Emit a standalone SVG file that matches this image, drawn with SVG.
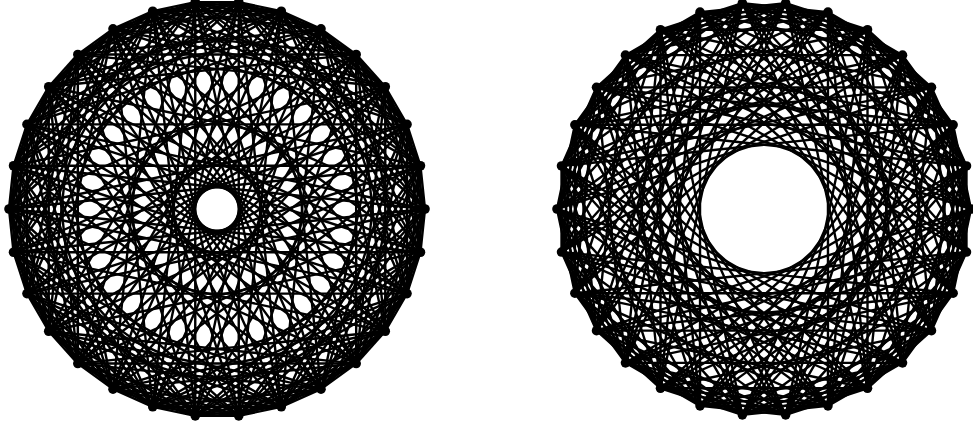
<svg xmlns="http://www.w3.org/2000/svg" width="973" height="427" viewBox="0 0 973 427">
<style>
line{stroke:#000;stroke-width:2.4;fill:none;stroke-linecap:round}
.n{fill:#000}
</style>
<defs>
<line id="k1" x1="208" y1="0" x2="203.46" y2="43.25"/>
<line id="k2" x1="208" y1="0" x2="190.02" y2="84.60"/>
<line id="k3" x1="208" y1="0" x2="168.28" y2="122.26"/>
<line id="k4" x1="208" y1="0" x2="139.18" y2="154.57"/>
<line id="k5" x1="208" y1="0" x2="104" y2="180.13"/>
<line id="k6" x1="208" y1="0" x2="64.28" y2="197.82"/>
<line id="k7" x1="208" y1="0" x2="21.74" y2="206.86"/>
<line id="k8" x1="208" y1="0" x2="-21.74" y2="206.86"/>
<line id="k9" x1="208" y1="0" x2="-64.28" y2="197.82"/>
<line id="k10" x1="208" y1="0" x2="-104" y2="180.13"/>
<line id="k11" x1="208" y1="0" x2="-139.18" y2="154.57"/>
<line id="k12" x1="208" y1="0" x2="-168.28" y2="122.26"/>
<line id="k13" x1="208" y1="0" x2="-190.02" y2="84.60"/>
<line id="k14" x1="208" y1="0" x2="-203.46" y2="43.25"/>
<g id="fanL"><use href="#k1"/><use href="#k2"/><use href="#k3"/><use href="#k4"/><use href="#k6"/><use href="#k7"/><use href="#k8"/><use href="#k11"/><use href="#k13"/><use href="#k14"/></g>
<g id="fanR"><use href="#k2"/><use href="#k3"/><use href="#k4"/><use href="#k5"/><use href="#k7"/><use href="#k9"/><use href="#k10"/><use href="#k11"/><use href="#k12"/></g>
</defs>
<rect width="973" height="427" fill="#fff"/>
<g id="connectors">
<g id="edges-left" transform="translate(217,209)">
<use href="#fanL"/><use href="#fanL" transform="rotate(12)"/><use href="#fanL" transform="rotate(24)"/><use href="#fanL" transform="rotate(36)"/><use href="#fanL" transform="rotate(48)"/><use href="#fanL" transform="rotate(60)"/><use href="#fanL" transform="rotate(72)"/><use href="#fanL" transform="rotate(84)"/><use href="#fanL" transform="rotate(96)"/><use href="#fanL" transform="rotate(108)"/><use href="#fanL" transform="rotate(120)"/><use href="#fanL" transform="rotate(132)"/><use href="#fanL" transform="rotate(144)"/><use href="#fanL" transform="rotate(156)"/><use href="#fanL" transform="rotate(168)"/><use href="#fanL" transform="rotate(180)"/><use href="#fanL" transform="rotate(192)"/><use href="#fanL" transform="rotate(204)"/><use href="#fanL" transform="rotate(216)"/><use href="#fanL" transform="rotate(228)"/><use href="#fanL" transform="rotate(240)"/><use href="#fanL" transform="rotate(252)"/><use href="#fanL" transform="rotate(264)"/><use href="#fanL" transform="rotate(276)"/><use href="#fanL" transform="rotate(288)"/><use href="#fanL" transform="rotate(300)"/><use href="#fanL" transform="rotate(312)"/><use href="#fanL" transform="rotate(324)"/><use href="#fanL" transform="rotate(336)"/><use href="#fanL" transform="rotate(348)"/>
</g>
<g id="edges-right" transform="translate(764,209) scale(0.9952)">
<use href="#fanR"/><use href="#fanR" transform="rotate(12)"/><use href="#fanR" transform="rotate(24)"/><use href="#fanR" transform="rotate(36)"/><use href="#fanR" transform="rotate(48)"/><use href="#fanR" transform="rotate(60)"/><use href="#fanR" transform="rotate(72)"/><use href="#fanR" transform="rotate(84)"/><use href="#fanR" transform="rotate(96)"/><use href="#fanR" transform="rotate(108)"/><use href="#fanR" transform="rotate(120)"/><use href="#fanR" transform="rotate(132)"/><use href="#fanR" transform="rotate(144)"/><use href="#fanR" transform="rotate(156)"/><use href="#fanR" transform="rotate(168)"/><use href="#fanR" transform="rotate(180)"/><use href="#fanR" transform="rotate(192)"/><use href="#fanR" transform="rotate(204)"/><use href="#fanR" transform="rotate(216)"/><use href="#fanR" transform="rotate(228)"/><use href="#fanR" transform="rotate(240)"/><use href="#fanR" transform="rotate(252)"/><use href="#fanR" transform="rotate(264)"/><use href="#fanR" transform="rotate(276)"/><use href="#fanR" transform="rotate(288)"/><use href="#fanR" transform="rotate(300)"/><use href="#fanR" transform="rotate(312)"/><use href="#fanR" transform="rotate(324)"/><use href="#fanR" transform="rotate(336)"/><use href="#fanR" transform="rotate(348)"/>
</g>
</g>
<g id="nodes-left" class="n">
<g id="L0"><circle cx="425" cy="209" r="4.8"/></g>
<g id="L1"><circle cx="420.46" cy="165.75" r="4.8"/></g>
<g id="L2"><circle cx="407.02" cy="124.40" r="4.8"/></g>
<g id="L3"><circle cx="385.28" cy="86.74" r="4.8"/></g>
<g id="L4"><circle cx="356.18" cy="54.43" r="4.8"/></g>
<g id="L5"><circle cx="321" cy="28.87" r="4.8"/></g>
<g id="L6"><circle cx="281.28" cy="11.18" r="4.8"/></g>
<g id="L7"><circle cx="238.74" cy="2.14" r="4.8"/></g>
<g id="L8"><circle cx="195.26" cy="2.14" r="4.8"/></g>
<g id="L9"><circle cx="152.72" cy="11.18" r="4.8"/></g>
<g id="L10"><circle cx="113" cy="28.87" r="4.8"/></g>
<g id="L11"><circle cx="77.82" cy="54.43" r="4.8"/></g>
<g id="L12"><circle cx="48.72" cy="86.74" r="4.8"/></g>
<g id="L13"><circle cx="26.98" cy="124.40" r="4.8"/></g>
<g id="L14"><circle cx="13.54" cy="165.75" r="4.8"/></g>
<g id="L15"><circle cx="9" cy="209" r="4.8"/></g>
<g id="L16"><circle cx="13.54" cy="252.25" r="4.8"/></g>
<g id="L17"><circle cx="26.98" cy="293.60" r="4.8"/></g>
<g id="L18"><circle cx="48.72" cy="331.26" r="4.8"/></g>
<g id="L19"><circle cx="77.82" cy="363.57" r="4.8"/></g>
<g id="L20"><circle cx="113" cy="389.13" r="4.8"/></g>
<g id="L21"><circle cx="152.72" cy="406.82" r="4.8"/></g>
<g id="L22"><circle cx="195.26" cy="415.86" r="4.8"/></g>
<g id="L23"><circle cx="238.74" cy="415.86" r="4.8"/></g>
<g id="L24"><circle cx="281.28" cy="406.82" r="4.8"/></g>
<g id="L25"><circle cx="321" cy="389.13" r="4.8"/></g>
<g id="L26"><circle cx="356.18" cy="363.57" r="4.8"/></g>
<g id="L27"><circle cx="385.28" cy="331.26" r="4.8"/></g>
<g id="L28"><circle cx="407.02" cy="293.60" r="4.8"/></g>
<g id="L29"><circle cx="420.46" cy="252.25" r="4.8"/></g>
</g>
<g id="nodes-right" class="n">
<g id="R0"><circle cx="971" cy="209" r="4.8"/></g>
<g id="R1"><circle cx="966.48" cy="165.96" r="4.8"/></g>
<g id="R2"><circle cx="953.10" cy="124.80" r="4.8"/></g>
<g id="R3"><circle cx="931.47" cy="87.33" r="4.8"/></g>
<g id="R4"><circle cx="902.51" cy="55.17" r="4.8"/></g>
<g id="R5"><circle cx="867.50" cy="29.73" r="4.8"/></g>
<g id="R6"><circle cx="827.97" cy="12.13" r="4.8"/></g>
<g id="R7"><circle cx="785.64" cy="3.13" r="4.8"/></g>
<g id="R8"><circle cx="742.36" cy="3.13" r="4.8"/></g>
<g id="R9"><circle cx="700.03" cy="12.13" r="4.8"/></g>
<g id="R10"><circle cx="660.50" cy="29.73" r="4.8"/></g>
<g id="R11"><circle cx="625.49" cy="55.17" r="4.8"/></g>
<g id="R12"><circle cx="596.53" cy="87.33" r="4.8"/></g>
<g id="R13"><circle cx="574.90" cy="124.80" r="4.8"/></g>
<g id="R14"><circle cx="561.52" cy="165.96" r="4.8"/></g>
<g id="R15"><circle cx="557" cy="209" r="4.8"/></g>
<g id="R16"><circle cx="561.52" cy="252.04" r="4.8"/></g>
<g id="R17"><circle cx="574.90" cy="293.20" r="4.8"/></g>
<g id="R18"><circle cx="596.53" cy="330.67" r="4.8"/></g>
<g id="R19"><circle cx="625.49" cy="362.83" r="4.8"/></g>
<g id="R20"><circle cx="660.50" cy="388.27" r="4.8"/></g>
<g id="R21"><circle cx="700.03" cy="405.87" r="4.8"/></g>
<g id="R22"><circle cx="742.36" cy="414.87" r="4.8"/></g>
<g id="R23"><circle cx="785.64" cy="414.87" r="4.8"/></g>
<g id="R24"><circle cx="827.97" cy="405.87" r="4.8"/></g>
<g id="R25"><circle cx="867.50" cy="388.27" r="4.8"/></g>
<g id="R26"><circle cx="902.51" cy="362.83" r="4.8"/></g>
<g id="R27"><circle cx="931.47" cy="330.67" r="4.8"/></g>
<g id="R28"><circle cx="953.10" cy="293.20" r="4.8"/></g>
<g id="R29"><circle cx="966.48" cy="252.04" r="4.8"/></g>
</g>
</svg>
